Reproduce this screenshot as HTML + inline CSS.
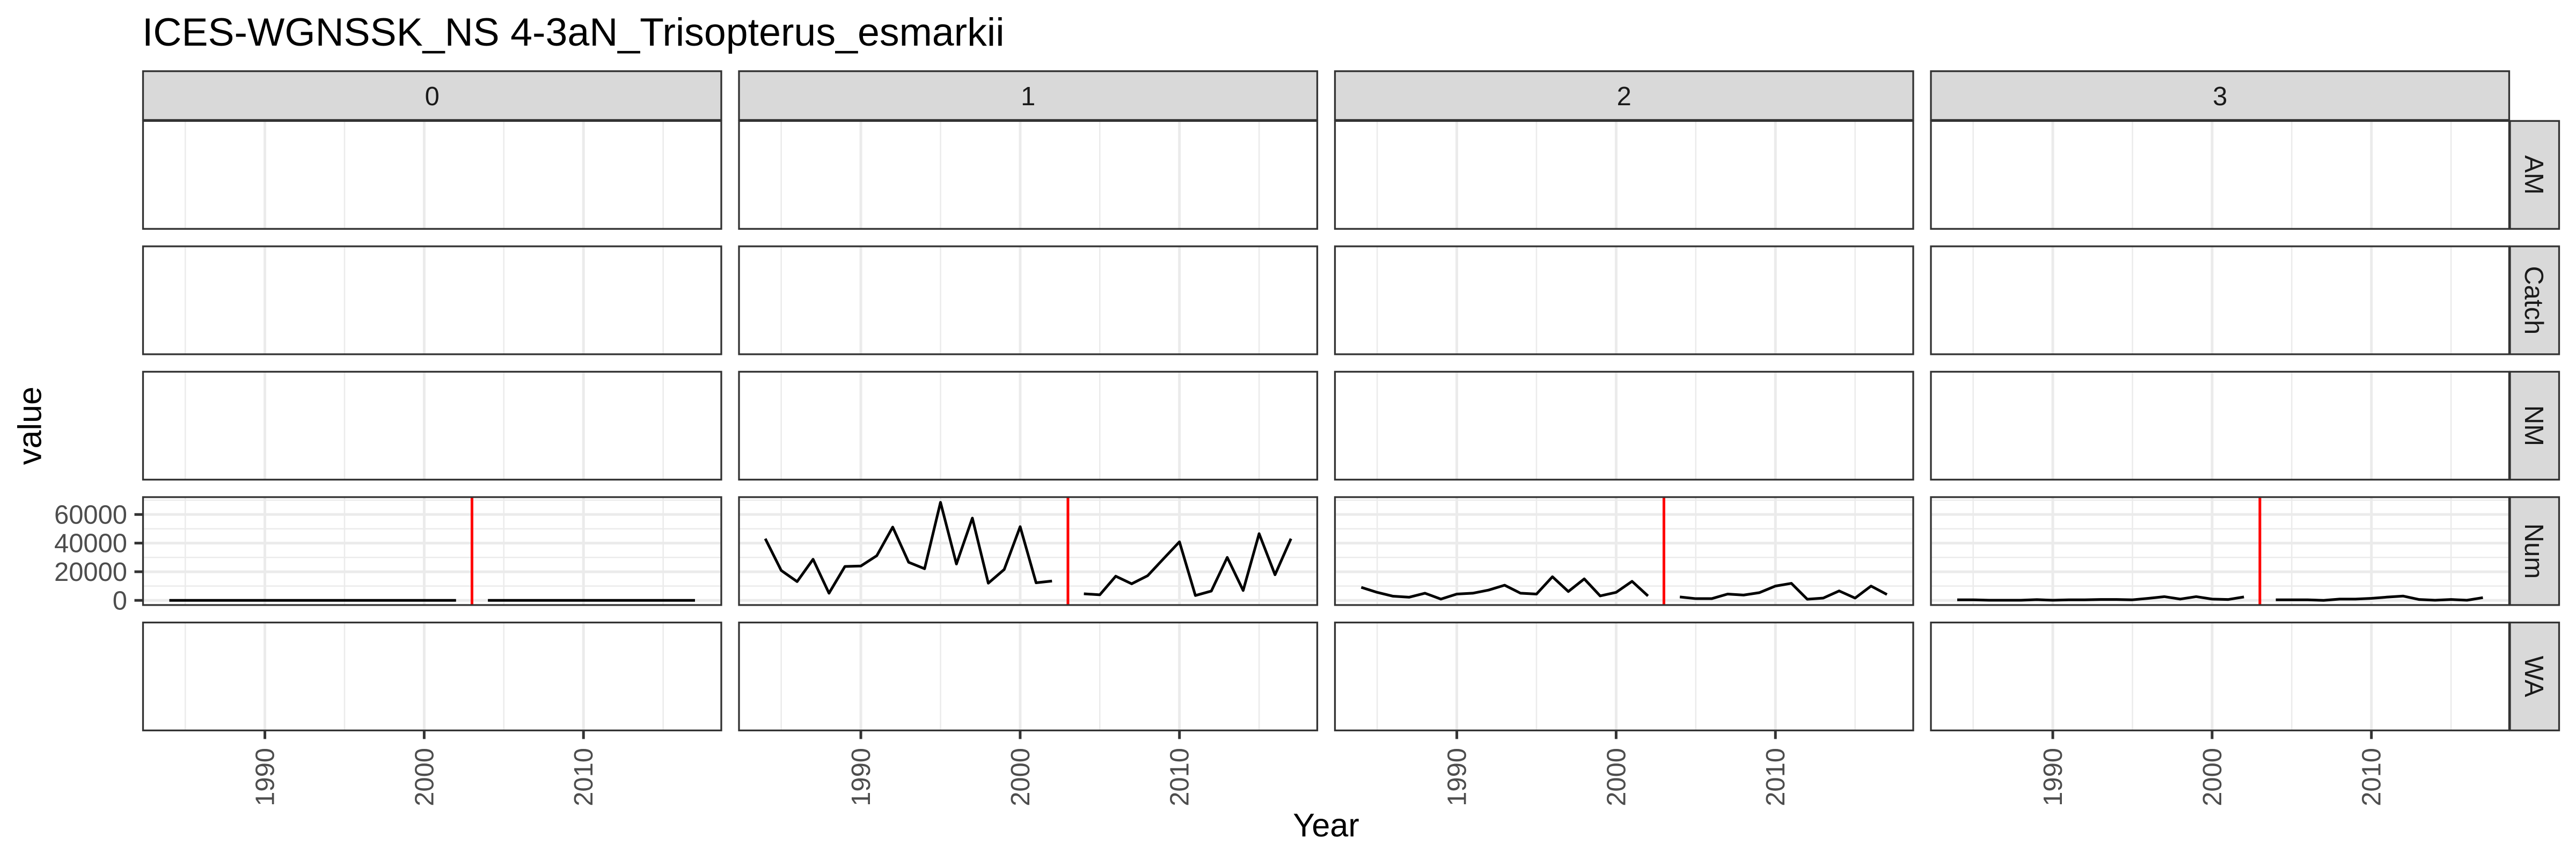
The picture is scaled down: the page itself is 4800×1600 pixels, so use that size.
<!DOCTYPE html>
<html>
<head>
<meta charset="utf-8">
<title>ICES-WGNSSK_NS 4-3aN_Trisopterus_esmarkii</title>
<style>
html,body{margin:0;padding:0;background:#fff;}
svg{display:block;}
text{font-family:"Liberation Sans",Arial,sans-serif;}
</style>
</head>
<body>
<svg id="chart" xmlns="http://www.w3.org/2000/svg" width="4800" height="1600" viewBox="0 0 4800 1600">
<rect x="0" y="0" width="4800" height="1600" fill="#ffffff"/>
<text x="265" y="85" font-size="73.5" fill="#000000">ICES-WGNSSK_NS 4-3aN_Trisopterus_esmarkii</text>
<text x="2471" y="1558" font-size="61.1" fill="#000000" text-anchor="middle">Year</text>
<text transform="translate(76.7 793) rotate(-90)" font-size="61.1" fill="#000000" text-anchor="middle">value</text>
</svg>
<script>
const ages = ["0", "1", "2", "3"];
const variables = ["AM", "Catch", "NM", "Num", "WA"];
const years = [1984,1985,1986,1987,1988,1989,1990,1991,1992,1993,1994,1995,1996,1997,1998,1999,2000,2001,2002,2003,2004,2005,2006,2007,2008,2009,2010,2011,2012,2013,2014,2015,2016,2017];
const numAge0 = [20,20,20,20,20,20,20,20,20,20,20,20,20,20,20,20,20,20,20,null,20,20,20,20,20,20,20,20,20,20,20,20,20,20];
const numAge1 = [43100,20900,13100,28700,5000,23700,24000,31200,51200,26600,22100,68500,25400,57500,12000,21600,51500,12300,13500,null,4600,3900,16900,11600,17200,29100,40900,3400,6500,30000,6900,46600,17900,43100];
const numAge2 = [9100,5600,2900,2200,5000,900,4400,5000,7200,10600,5000,4400,16500,6200,15000,3100,5600,13300,3100,null,2400,1200,1200,4400,3700,5400,10000,11900,800,1600,6600,1600,10000,4100];
const numAge3 = [400,400,100,100,100,500,100,400,400,600,600,400,1400,2600,900,2600,900,600,2400,null,400,400,400,0,900,900,1400,2300,3000,600,100,600,100,1900];
const cutoffYear = [2003];
const xMajorTicks = [1990, 2000, 2010];
const xMinorBreaks = [1985, 1995, 2005, 2015];
const yMajorTicks = [0, 20000, 40000, 60000];
const yMinorBreaks = [10000, 30000, 50000, 70000];

const numSeries = [numAge0, numAge1, numAge2, numAge3];
const svg = document.getElementById("chart");
const NS = "http://www.w3.org/2000/svg";

const plotLeft = 266.5, panelStep = 1110.5, panelWidth = 1077.5;
const plotTop = 225.3, rowStep = 233.55, panelHeight = 201;
const xDomain = [1982.35, 2018.65];
const yDomain = [-3260, 72134];

function panelX(col) { return plotLeft + col * panelStep; }
function panelY(row) { return plotTop + row * rowStep; }
function xScale(year, col) {
  return panelX(col) + (year - xDomain[0]) / (xDomain[1] - xDomain[0]) * panelWidth;
}
function yScale(value, row) {
  return panelY(row) + panelHeight - (value - yDomain[0]) / (yDomain[1] - yDomain[0]) * panelHeight;
}
function make(tag, attrs, text) {
  const el = document.createElementNS(NS, tag);
  for (const k in attrs) el.setAttribute(k, attrs[k]);
  if (text !== undefined) el.textContent = text;
  svg.appendChild(el);
  return el;
}

variables.forEach(function (variable, row) {
  const top = panelY(row), bottom = top + panelHeight;
  ages.forEach(function (age, col) {
    const left = panelX(col), right = left + panelWidth;

    const bg = make("rect", {x: left, y: top, width: panelWidth, height: panelHeight, fill: "#ffffff"});
    
    

    if (variable === "Num") {
      yMinorBreaks.forEach(function (v) {
        const g = make("line", {x1: left, x2: right, y1: yScale(v, row), y2: yScale(v, row), stroke: "#ebebeb", "stroke-width": 2.5});
        
        
      });
      yMajorTicks.forEach(function (v) {
        const g = make("line", {x1: left, x2: right, y1: yScale(v, row), y2: yScale(v, row), stroke: "#ebebeb", "stroke-width": 5});
        
        
      });
    }
    xMinorBreaks.forEach(function (yr) {
      const g = make("line", {x1: xScale(yr, col), x2: xScale(yr, col), y1: top, y2: bottom, stroke: "#ebebeb", "stroke-width": 2.5});
      
      
    });
    xMajorTicks.forEach(function (yr) {
      const g = make("line", {x1: xScale(yr, col), x2: xScale(yr, col), y1: top, y2: bottom, stroke: "#ebebeb", "stroke-width": 5});
      
      
    });

    if (variable === "Num") {
      const values = numSeries[col];
      let segment = [];
      const flush = function () {
        if (segment.length) {
          const line = make("polyline", {points: segment.join(" "), fill: "none", stroke: "#000000", "stroke-width": 5, "stroke-linejoin": "round", "stroke-linecap": "butt"});
          
          
        }
        segment = [];
      };
      years.forEach(function (yr, i) {
        if (values[i] === null) { flush(); return; }
        segment.push(xScale(yr, col).toFixed(2) + "," + yScale(values[i], row).toFixed(2));
      });
      flush();
      cutoffYear.forEach(function (yr) {
        const red = make("line", {x1: xScale(yr, col), x2: xScale(yr, col), y1: top, y2: bottom, stroke: "#ff0000", "stroke-width": 5});
        
        
      });
    }

    const border = make("rect", {x: left, y: top, width: panelWidth, height: panelHeight, fill: "none", stroke: "#333333", "stroke-width": 3.3});
    
    

    if (row === 0) {
      const strip = make("rect", {x: left, y: 132.6, width: panelWidth, height: 90.9, fill: "#d9d9d9", stroke: "#333333", "stroke-width": 3.3});
      
      
      const label = make("text", {x: left + panelWidth / 2, y: 196, "font-size": 48.9, fill: "#1a1a1a", "text-anchor": "middle"}, age);
      
      
    }

    if (col === 0 && variable === "Num") {
      yMajorTicks.forEach(function (v) {
        const t = make("line", {x1: left - 16, x2: left, y1: yScale(v, row), y2: yScale(v, row), stroke: "#333333", "stroke-width": 5});
        
        
        const lbl = make("text", {x: 237, y: yScale(v, row) + 17, "font-size": 48.9, fill: "#4d4d4d", "text-anchor": "end"}, String(v));
        
        
      });
    }

    if (row === variables.length - 1) {
      xMajorTicks.forEach(function (yr) {
        const x = xScale(yr, col);
        const t = make("line", {x1: x, x2: x, y1: bottom, y2: bottom + 16, stroke: "#333333", "stroke-width": 5});
        
        
        const lbl = make("text", {transform: "translate(" + (x + 17) + " 1393) rotate(-90)", "font-size": 48.9, fill: "#4d4d4d", "text-anchor": "end"}, String(yr));
        
        
      });
    }
  });

  const stripLeft = panelX(ages.length - 1) + panelWidth + 1.5;
  const rowStrip = make("rect", {x: stripLeft, y: top, width: 4768.5 - stripLeft, height: panelHeight, fill: "#d9d9d9", stroke: "#333333", "stroke-width": 3.3});
  
  
  const rowLabel = make("text", {transform: "translate(4705 " + (top + panelHeight / 2) + ") rotate(90)", "font-size": 48.9, fill: "#1a1a1a", "text-anchor": "middle"}, variable);
  
  
});
</script>
</body>
</html>
